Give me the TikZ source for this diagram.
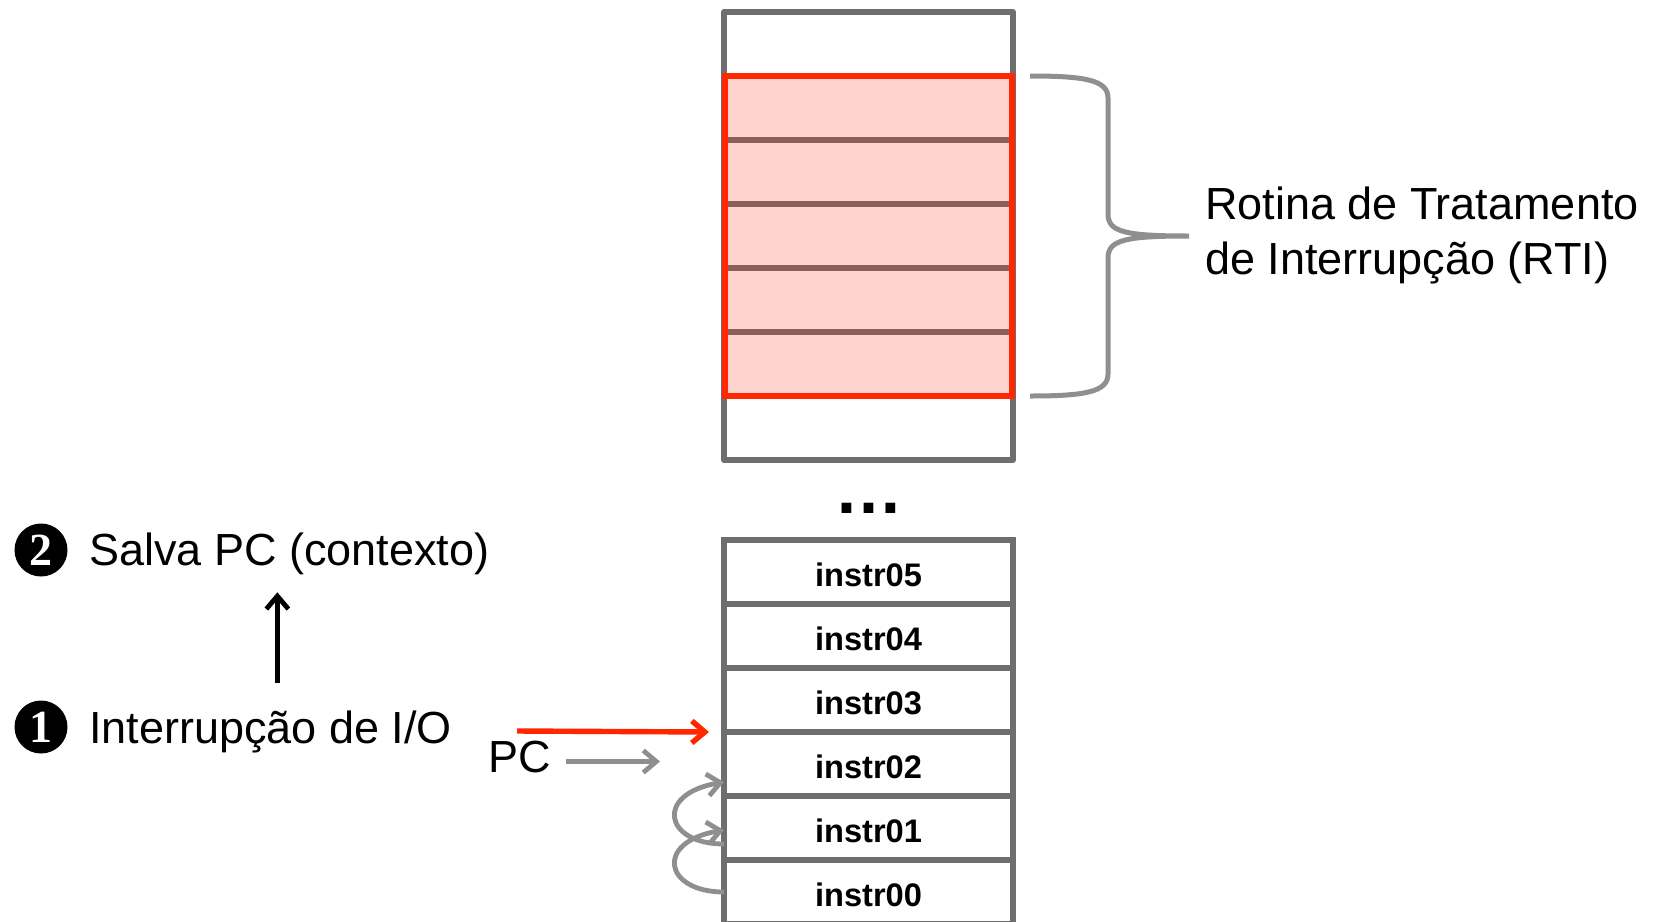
\documentclass[tikz,border=0pt]{standalone}
\usepackage{fontspec}
\setmainfont{Liberation Sans}
\newfontfamily\numfont{Liberation Serif}
\usetikzlibrary{arrows.meta,positioning}

\definecolor{boxgray}{HTML}{6E6E6E}
\definecolor{rtired}{HTML}{FF2600}
\definecolor{rtifill}{HTML}{FFD4CE}
\definecolor{rtiline}{HTML}{8A5F58}
\definecolor{arrgray}{HTML}{8F8F8F}

\tikzset{
	txt/.style={font=\fontsize{22.5}{27.5}\selectfont, inner sep=0pt, outer sep=0pt},
	cell/.style={draw=boxgray, line width=3pt, minimum width=144.5pt, minimum height=32pt,
		inner sep=0pt, outer sep=0pt, text height=14.5pt, text depth=0pt,
		font=\fontsize{16.3}{19}\selectfont\bfseries},
	num/.style={circle, fill=black, text=white, minimum size=26.5pt, inner sep=0pt,
		font=\numfont\fontsize{23}{23}\selectfont\bfseries},
	barb/.style={-{Straight Barb[length=6.5pt,width=11pt]}, line width=2.4pt},
}

\begin{document}
\begin{tikzpicture}[x=0.5pt,y=-0.5pt]
	\useasboundingbox (0,0) rectangle (1657,921);
	\clip (0,0) rectangle (1657,921);
	
	%RTI block
	\fill[rtifill] (724,76) rectangle (1013,396);
	\foreach \y in {140,204,268,332}
	\draw[rtiline, line width=3pt] (724,\y) -- (1013,\y);
	\draw[boxgray, line width=3pt, line join=round] (724,12) rectangle (1013,460);
	\draw[rtired, line width=3pt] (725,76) rectangle (1012,396);
	
	%brace + label
	\draw[arrgray, line width=2.5pt] (1030,76) .. controls (1085,76) and (1108,80) .. (1108,98)
		-- (1108,214) .. controls (1108,232) and (1125,236) .. (1189,236)
		.. controls (1125,236) and (1108,240) .. (1108,258)
		-- (1108,374) .. controls (1108,392) and (1085,396) .. (1030,396);
	\node[txt, align=left, anchor=west] (rti) at (1205,235)
		{Rotina de Tratamento\\de Interrupção (RTI)};
	
	%program
	\node[font=\fontsize{34.5}{34.5}\selectfont\bfseries, inner sep=0pt, anchor=base] (dots) at (868.5,513) {…};
	\foreach \n [count=\k from 0] in {05,04,03,02,01,00}
	\node[cell] (i\n) at (868.5,{572+64*\k}) {instr\n};
	
	%steps
	\node[num] (n2) at (41,550) {2};
	\node[num] (n1) at (41,727) {1};
	\node[txt, anchor=base west] (salva) at (89,565) {Salva PC (contexto)};
	\node[txt, anchor=base west] (intr) at (89,743) {Interrupção de I/O};
	\draw[barb, black] ([shift={(3.5pt,13.5pt)}]intr.north) coordinate (a0)
		-- ([yshift=-9pt]a0 |- salva.south);
	
	%PC arrows
	\node[txt, anchor=base west] (pc) at (488,772) {PC};
	\coordinate (irq) at (517,731);
	\draw[barb, rtired, line width=2.7pt] (irq) -- ([xshift=-7.5pt]i02.north west);
	\draw[barb, arrgray] ([shift={(7.5pt,-2.5pt)}]pc.east) coordinate (p0)
		-- ([xshift=-32pt]p0 -| i02.west);
	
	%loops
	\draw[barb, arrgray] ([yshift=-8pt]i01.west) .. controls +(-30pt,0pt) and +(-35pt,-6pt)
		.. ([yshift=-9pt]i02.west);
	\draw[barb, arrgray] (i00.west) .. controls +(-30pt,0pt) and +(-35pt,-6pt)
		.. ([yshift=-1pt]i01.west);
\end{tikzpicture}
\end{document}
